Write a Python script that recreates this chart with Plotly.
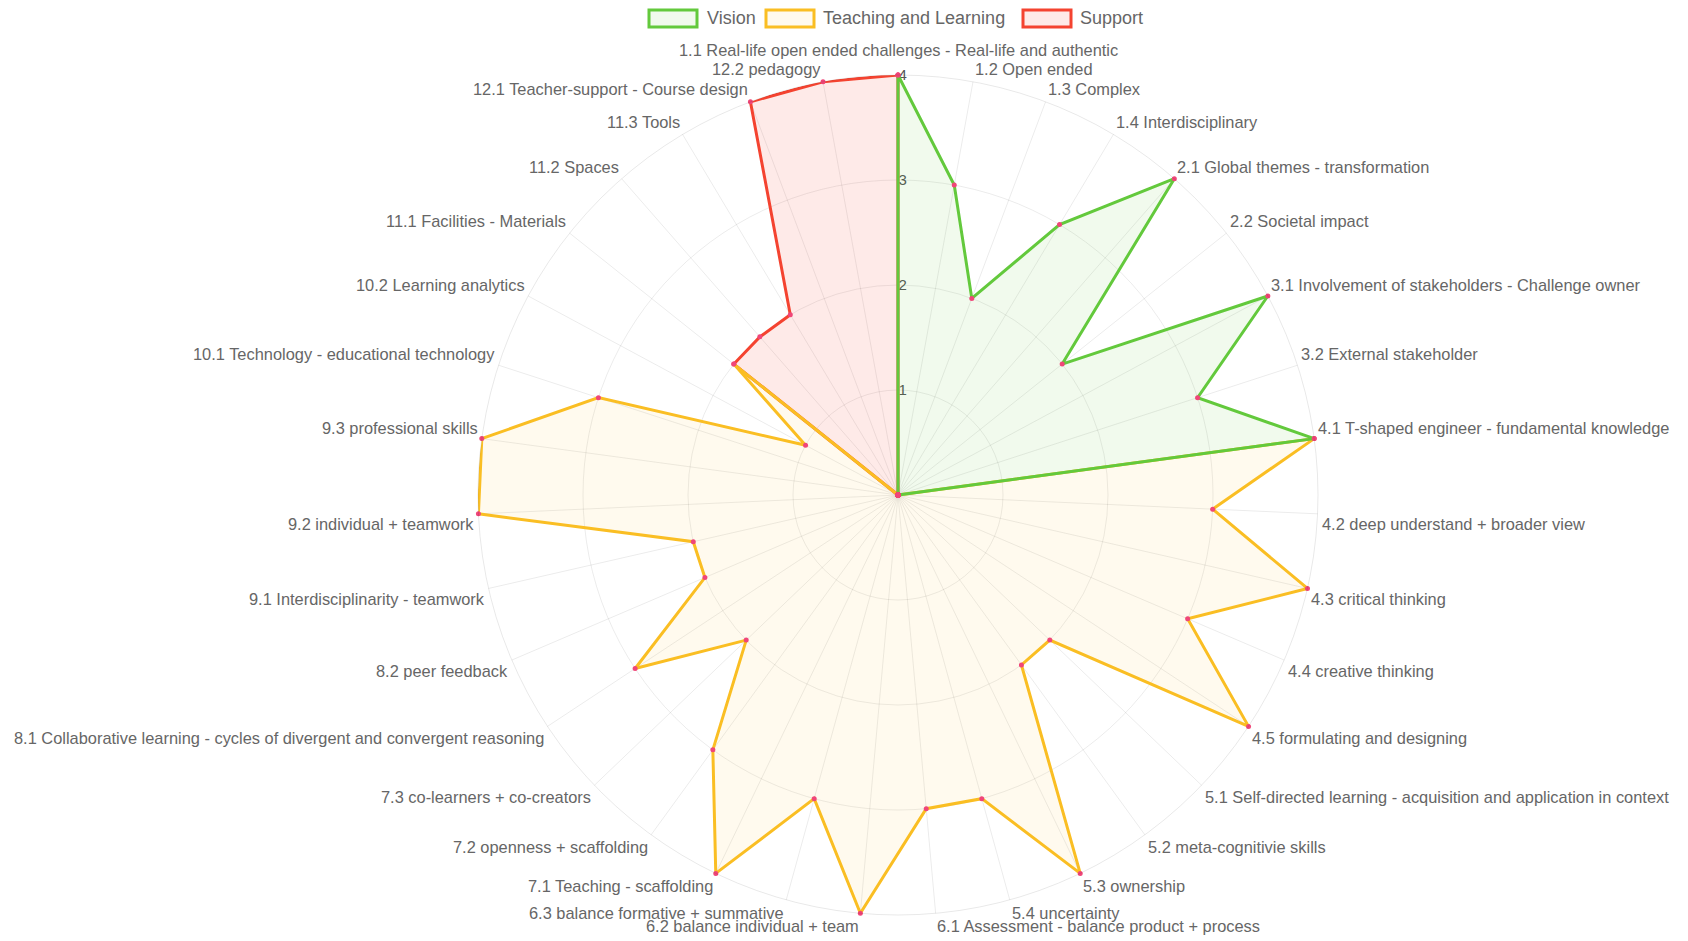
import math
import plotly.graph_objects as go

categories = [
    "1.1 Real-life open ended challenges - Real-life and authentic",
    "1.2 Open ended",
    "1.3 Complex",
    "1.4 Interdisciplinary",
    "2.1 Global themes - transformation",
    "2.2 Societal impact",
    "3.1 Involvement of stakeholders - Challenge owner",
    "3.2 External stakeholder",
    "4.1 T-shaped engineer - fundamental knowledge",
    "4.2 deep understand + broader view",
    "4.3 critical thinking",
    "4.4 creative thinking",
    "4.5 formulating and designing",
    "5.1 Self-directed learning - acquisition and application in context",
    "5.2 meta-cognitivie skills",
    "5.3 ownership",
    "5.4 uncertainty",
    "6.1 Assessment - balance product + process",
    "6.2 balance individual + team",
    "6.3 balance formative + summative",
    "7.1 Teaching - scaffolding",
    "7.2 openness + scaffolding",
    "7.3 co-learners + co-creators",
    "8.1 Collaborative learning - cycles of divergent and convergent reasoning",
    "8.2 peer feedback",
    "9.1 Interdisciplinarity - teamwork",
    "9.2 individual + teamwork",
    "9.3 professional skills",
    "10.1 Technology - educational technology",
    "10.2 Learning analytics",
    "11.1 Facilities - Materials",
    "11.2 Spaces",
    "11.3 Tools",
    "12.1 Teacher-support - Course design",
    "12.2 pedagogy",
]

vision = [4, 3, 2, 3, 4, 2, 4, 3, 4,
          0, 0, 0, 0, 0, 0, 0, 0, 0, 0, 0, 0, 0, 0, 0, 0, 0,
          0, 0, 0, 0, 0, 0, 0, 0, 0]
teaching = [0, 0, 0, 0, 0, 0, 0, 0,
            4, 3, 4, 3, 4,
            2, 2, 4, 3,
            3, 4, 3,
            4, 3, 2,
            3, 2,
            2, 4, 4,
            3, 1,
            2, 0, 0,
            0, 0]
support = [4, 0, 0, 0, 0, 0, 0, 0, 0, 0, 0, 0, 0, 0, 0, 0, 0, 0, 0, 0,
           0, 0, 0, 0, 0, 0, 0, 0, 0, 0,
           2, 2, 2,
           4, 4]

radial_ticks = [1, 2, 3, 4]

series = [
    ("Vision", vision, "rgb(99,201,60)", "rgba(99,201,60,0.09)"),
    ("Teaching and Learning", teaching, "rgb(250,190,35)", "rgba(250,190,35,0.08)"),
    ("Support", support, "rgb(244,67,48)", "rgba(244,67,48,0.11)"),
]

FONT = "Liberation Sans, Arial, Helvetica, sans-serif"
W, H = 1688, 941
LABEL_SIZE = 16.4

fig = go.Figure()
# draw in reverse so that the first dataset sits on top
for name, vals, line_c, fill_c in reversed(series):
    fig.add_trace(go.Scatterpolar(
        r=vals + [vals[0]],
        theta=categories + [categories[0]],
        name=name,
        mode="lines+markers",
        fill="toself",
        fillcolor=fill_c,
        line=dict(color=line_c, width=3),
        marker=dict(color="rgb(240,70,120)", size=5),
        showlegend=False,
    ))

cx, cy, R = 898, 495, 420
fig.update_layout(
    width=W, height=H,
    margin=dict(l=0, r=0, t=0, b=0),
    paper_bgcolor="white",
    font=dict(family=FONT, color="#666"),
    polar=dict(
        domain=dict(x=[(cx - R) / W, (cx + R) / W],
                    y=[(H - cy - R) / H, (H - cy + R) / H]),
        bgcolor="white",
        angularaxis=dict(
            type="category",
            categoryorder="array",
            categoryarray=categories,
            direction="clockwise",
            rotation=90,
            showticklabels=False,
            ticks="",
            showline=True,
            linecolor="rgba(0,0,0,0.09)",
            linewidth=1,
            gridcolor="rgba(0,0,0,0.08)",
            gridwidth=1,
        ),
        radialaxis=dict(
            range=[0, 4],
            tickvals=radial_ticks,
            ticktext=[str(t) for t in radial_ticks],
            angle=90,
            tickangle=90,
            showline=False,
            ticks="",
            layer="below traces",
            gridcolor="rgba(0,0,0,0.08)",
            tickfont=dict(size=15, color="#555", family=FONT),
        ),
    ),
)

# point labels placed the way Chart.js places them around a radar scale
N = len(categories)
line_h = 1.2 * LABEL_SIZE
for i, lab in enumerate(categories):
    ang = round(360.0 * i / N, 6)
    dist = R + 3 + (12 if i == 0 else 0)
    a = math.radians(ang)
    px = cx + dist * math.sin(a)
    py = cy - dist * math.cos(a)
    if ang in (0.0, 180.0):
        xa = "center"
    elif ang < 180:
        xa = "left"
    else:
        xa = "right"
    if ang in (90.0, 270.0):
        yc = py
    elif ang > 270 or ang < 90:
        yc = py - line_h / 2
    else:
        yc = py + line_h / 2
    fig.add_annotation(xref="paper", yref="paper", x=px / W, y=1 - yc / H,
                       xanchor=xa, yanchor="middle", showarrow=False,
                       borderpad=0, text=lab,
                       font=dict(size=LABEL_SIZE, color="#666", family=FONT))

# Chart.js style legend: outlined boxes + labels
legend_items = [
    ("Vision", series[0][2], series[0][3], 649, 705),
    ("Teaching and Learning", series[1][2], series[1][3], 766, 821),
    ("Support", series[2][2], series[2][3], 1023, 1078),
]
for label, line_c, fill_c, bx, tx in legend_items:
    fig.add_shape(type="rect", xref="paper", yref="paper",
                  x0=bx / W, x1=(bx + 48) / W,
                  y0=1 - 27 / H, y1=1 - 10 / H,
                  line=dict(color=line_c, width=3), fillcolor=fill_c)
    fig.add_annotation(xref="paper", yref="paper", x=tx / W, y=1 - 18.5 / H,
                       xanchor="left", yanchor="middle", showarrow=False,
                       text=label, font=dict(size=18, color="#666", family=FONT))

fig.write_html("out.html", config={"displayModeBar": False},
               post_script="document.body.style.margin='0';")
